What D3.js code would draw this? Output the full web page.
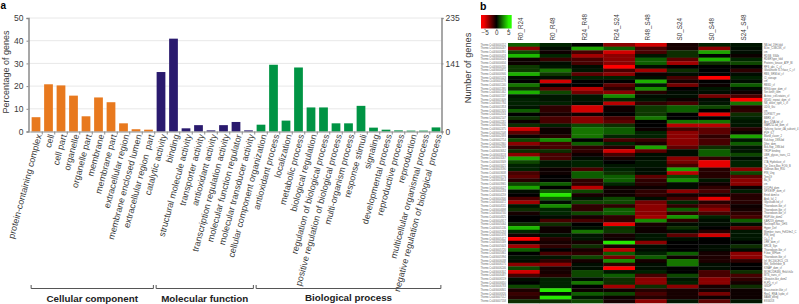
<!DOCTYPE html>
<html>
<head>
<meta charset="utf-8">
<script src="https://cdn.jsdelivr.net/npm/d3@7"></script>
<style>
  html, body { margin: 0; padding: 0; background: #fff; }
  svg { display: block; font-family: "Liberation Sans", Arial, sans-serif; }
</style>
</head>
<body>
<svg id="chart" width="799" height="304"></svg>
<script>
// panel a
const ccTerms = ["protein-containing complex", "cell", "cell part", "organelle", "organelle part", "membrane", "membrane part", "extracellular region", "membrane enclosed lumen", "extracellular region  part"];
const ccValues = [6.3, 20.8, 20.3, 15.8, 6.7, 15, 12.9, 3.6, 1, 0.8];
const mfTerms = ["catalytic activity", "binding", "structural molecule activity", "transporter activity", "antioxidant activity", "transcription regulation activity", "molecular function regulator", "molecular transducer activity"];
const mfValues = [26.2, 40.9, 1.4, 2.8, 0.5, 2.8, 4.2, 0.5];
const bpTerms = ["cellular component organization", "antioxidant process", "localization", "metabolic process", "biological regulation", "regulation of biological process", "positive regulation of biological process", "multi-organism process", "response stimuli", "signaling", "developmental process", "reproductive process", "reproduction", "multicellular organismal process", "negative regulation of biological  process"];
const bpValues = [3, 29.4, 4.8, 28.2, 10.6, 10.6, 3.6, 3.6, 11.3, 1.7, 0.8, 0.5, 0.4, 0.4, 1.8];
const percentTicks = [0, 10, 20, 30, 40, 50];
const geneTicks = [0, 141, 235];

// panel b
const comparisons = ["R0_R24", "R0_R48", "R24_R48", "R24_S24", "R48_S48", "S0_S24", "S0_S48", "S24_S48"];
const legendTicks = [-5, 0, 5];
const heatValues = [
  [2, .8, 0, -3, -4.5, -.5, .7, .5],
  [-3, .3, 3.5, 2, -1.5, -.5, -3, .3],
  [1.5, -.3, -1.5, -4.5, -1.5, 1, 3.5, .3],
  [4, .8, -3.5, -3, .5, 1, 0, -.3],
  [-.3, -1.2, -1.5, -3, 2, -2, 3.8, .8],
  [-.3, .3, -1.5, -3, 2, -3.5, 1, 1.5],
  [1.2, .4, .3, -5.5, .3, 0, 0, 0],
  [1.2, 2.5, .4, -1.5, -3.5, 1, 0, -1],
  [3.8, 1.2, -2, -3, -.3, .3, 0, .2],
  [.3, .3, .7, .7, .3, -1.5, -5.5, .7],
  [.1, -4.5, 0, 0, 3.8, -.5, -.1, .2],
  [2.5, 0, 0, -2, .5, -2.5, -.2, 2],
  [1, -2, -4, -1, 3, .1, .4, .2],
  [3.8, 1.5, -2.5, -3, -.8, .2, .2, -.2],
  [.5, .5, .5, 3, .3, .2, -2.5, -1.5],
  [.7, .5, .5, .8, .4, -.2, .3, -5.5],
  [.7, .7, .3, -4, -1, -1.5, .5, 2.5],
  [.4, -1, -4.5, -.2, 1.2, 2, 1.5, -.8],
  [2, -1, -4.5, -.2, 1.2, 2, 0, -1],
  [.1, -.5, -.3, 0, 1.2, 0, -5, 1],
  [1, -1.5, -3, -1.5, 2.5, -.1, 0, .7],
  [-.2, -1.5, -3, -2, 0, 2.5, 2.5, .5],
  [1, .7, 1.5, 1, .1, -4, -4, .5],
  [-4.5, -.3, 2.5, 2, -.2, -1.5, -2, -.8],
  [-2, -.3, 2.5, 2, .7, -3, -2, -.3],
  [-.3, -.8, 2.5, .8, .7, -3, -1, 3.5],
  [1.5, 3, 0, -1.5, -1.2, -3, -1.5, .5],
  [-3, -1.5, 2, .8, -.5, -3, -1.5, 2],
  [-1, -1.5, -1, -.8, 3.5, -2, 1, .4],
  [1, 1, -1, -4.5, -2, .2, 2, .4],
  [-3, -1.5, -.3, -1.5, .3, .2, 2, 1.5],
  [3.5, -1.5, .3, -.5, .3, -3, -1, .3],
  [1.5, .5, .7, 0, .5, -2.5, -5, .7],
  [.7, .5, .7, .5, .5, -1.5, -5, .7],
  [.7, -.3, -1.5, .7, .2, 3.5, -.8, -3],
  [-1.5, -.2, 2, 1, .2, -4, -.8, 1.5],
  [-2, .1, 2, 2, -2, 1.5, -.8, -2],
  [-.8, .1, -1, 2, -1, 3, .4, -3],
  [1.5, 2, -1, .8, -.8, .3, -.3, -3],
  [3.5, 0, -4, -.3, -.3, .3, -1, -.3],
  [.3, 2, 1.5, -.3, -1, -3, -1.5, .6],
  [0, 5, -.5, -.2, -1, -.5, -.5, -.8],
  [-1.5, 2, .5, 1.5, .3, -1.5, -5, -.8],
  [-3.5, .3, 1.5, 1.5, -2.5, .8, -.8, -.8],
  [.5, 3, -1, -1, -3, -1, -2, -.2],
  [1, .8, -1, 2, -3, 2, -3, -.5],
  [-.5, .8, 1.5, 2, -3, -1, -1.5, -1],
  [-.1, .3, -.4, -1, -3.5, 3.2, .7, -1.5],
  [0, -1.5, -1.5, -1, 3, -1, .3, 2],
  [1, 1, .1, -5, -.5, .3, .3, .3],
  [4, -.2, .3, 1, -.3, 1, 0, -2],
  [.8, -.2, 2.5, 1.2, -.3, .3, -.8, .5],
  [-.5, .4, .5, -.5, .4, -2, -4.5, .5],
  [-5.5, -.8, .5, -.3, .5, .3, .1, .5],
  [-.3, -.5, -.5, 5, -3, 0, .1, 0],
  [-3.5, -1, 1, -.5, .3, 0, .2, 1],
  [2, 0, -.5, -4, .3, 0, .2, .2],
  [0, -1.5, -1, 2, .7, 2, -.5, -3],
  [.4, .4, 1.5, -2.5, 2, -.3, -.6, -3],
  [.3, -1, -.5, 3, -.5, 2.5, -.6, -1],
  [-3, -3, .3, -1, .3, 2.5, .3, 0],
  [1.5, -.4, .3, -5.5, .3, 0, .3, 0],
  [-4.5, -.4, 1.5, .5, .7, -.1, -1.5, 1],
  [-1.5, -.8, 1.5, 2, -1.5, 1.5, -1.5, -1.5],
  [.2, .7, .3, 1, -3, .5, -3, -1],
  [0, .7, 2.5, 1, -3, .7, -3, -.5],
  [1.5, .7, 0, -3.5, 1, -3, -.4, 1],
  [-.6, 5, -.3, -.3, -.8, -.5, -.4, -.3],
  [-1.2, .3, 2, 1.5, -1.5, -.5, -2.5, -.3],
  [-.8, 5, .5, -.3, -.8, -.5, -.3, -.3],
  [1, 1, 1.5, -.5, -3, .5, -2, .5]
];
const geneIds = ["0152", "0267", "0391", "0418", "0526", "0634", "0705", "0871", "0946", "1023", "1178", "1240", "1395", "1462", "1537", "1609", "1784", "1853", "1920", "2016", "2147", "2281", "2336", "2475", "2508", "2693", "2714", "2860", "2939", "3052", "3118", "3267", "3349", "3421", "3590", "3638", "3776", "3814", "3965", "4027", "4183", "4259", "4306", "4472", "4531", "4698", "4740", "4825", "4917", "5064", "5136", "5293", "5378", "5412", "5589", "5643", "5720", "5861", "5994", "6038", "6175", "6246", "6302", "6487", "6519", "6650", "6783", "6841", "6926", "7012", "7158"];
const domainNames = ["NB-bd_19H-fold", "B-lec_C3BCSK_cf", "cm", "RDSB_SS4b", "RDBR type_fold", "Proteins_kinase_ATP_Bl", "RFS_abc_C_cf", "Glutathione S-Trfase_C_cf", "RBS_SRM-fol_cf", "Cl_storage", "cm", "RBSD_cf", "RING-type_dom_cf", "Ser-kinet_cdm", "Actinic_cell-rotates_cf", "WD40_repeat_dom_cf", "NB_disee_type_1_cf", "UDG_Gsi", "cm", "DUF3677_pre", "BBR3_cf", "Ann_DNA-bd_cf", "WAR252-bd_dom_cf", "Splicing_factor_4A_subunit_4", "PVF_fLT", "Bland_claver_2", "Kuk-hop_1NN-bd", "Dfee_dom", "Bck-hop_1NN-bd", "TRDP binding", "UBR_glycos_trans_C1", "cm", "LTA_Hydrolase_cf", "Tyr_Dece-Box_FOG_B", "Sabinan-Box_E30", "PIN_Ung", "Tenr19", "Bu_N", "cm", "DYDPd_dom", "SPX/EXP_dom_cf", "Entel dom/cx", "Arok_Iul_2", "Glycoside-hd_cf", "Thioredoxin-like_cf", "Thioredoxin-like_cf", "Thioredoxin-like_cf", "RGP-like_dom2", "KAR259_domain", "Nucleoplf-Nuc_DHS", "Hyper_Def", "Member_trans_FxKDfm2_C", "PIN_long", "Cu-1_ff", "LRR_dom_cf", "BRCB_Syn", "Thioredoxin-like_cf", "F-box_WFfam", "Thioredoxin-like_cf", "Inf_IEC1GCEC5_CS", "Mrs_Selfinhibitr_B", "KINAP_dom_cf", "MORC/DR486_Rnk/ch4x", "MTS_trans_cf", "Ubiquitin-like_dom2", "FLPD_rt_cf", "GSDP", "Brassinoster-like_cf", "Rep1_RNA_lcpbx_cf", "BAdB_dfling", "EXGD18"];

const allTerms = [...ccTerms, ...mfTerms, ...bpTerms];
const allValues = [...ccValues, ...mfValues, ...bpValues];
const termColor = t => ccTerms.includes(t) ? "#e8791e" : mfTerms.includes(t) ? "#2a1a6e" : "#009444";
const valueByTerm = new Map(allTerms.map((t, i) => [t, allValues[i]]));

const svg = d3.select("#chart");
const axisColor = "#8a8a8a";
const textColor = "#3a3a3a";

const x = d3.scaleBand().domain(allTerms).range([29.75, 442.25]).paddingInner(0.3).paddingOuter(0.15);
const y = d3.scaleLinear().domain([0, 50]).range([131.5, 18]);
const yGenes = d3.scaleLinear().domain([0, 235]).range([131.5, 18]);

// grid
svg.append("g").selectAll("line")
  .data(percentTicks.slice(1))
  .enter()
  .append("line")
  .attr("x1", 28.5).attr("x2", 441.5)
  .attr("y1", d => y(d)).attr("y2", d => y(d))
  .attr("stroke", "#e8e8e8");

// bars
svg.append("g").selectAll("rect")
  .data(allTerms)
  .enter()
  .append("rect")
  .attr("x", d => x(d))
  .attr("y", d => y(valueByTerm.get(d)))
  .attr("width", x.bandwidth())
  .attr("height", d => y(0) - y(valueByTerm.get(d)))
  .attr("fill", termColor);

// axes
const leftAxis = svg.append("g")
  .attr("transform", "translate(28.5,0)")
  .call(d3.axisLeft(y).tickValues(percentTicks).tickSize(2).tickPadding(3));
const rightAxis = svg.append("g")
  .attr("transform", "translate(441.5,0)")
  .call(d3.axisRight(yGenes).tickValues(geneTicks).tickSize(2).tickPadding(2));
[leftAxis, rightAxis].forEach(a => {
  a.select(".domain").attr("stroke", axisColor).attr("stroke-width", 1.5);
  a.selectAll(".tick line").attr("stroke", axisColor);
  a.selectAll("text").attr("fill", textColor).style("font-size", "8.5px").style("font-family", "inherit");
});

const bottomAxis = svg.append("g")
  .attr("transform", "translate(0,131.5)")
  .call(d3.axisBottom(x).tickSize(3).tickSizeOuter(0));
bottomAxis.select(".domain").attr("stroke", axisColor);
// ticks sit between the bars
bottomAxis.selectAll(".tick line")
  .attr("x1", x.step() / 2).attr("x2", x.step() / 2)
  .attr("stroke", axisColor);
bottomAxis.selectAll(".tick text")
  .attr("transform", "translate(3,3) rotate(-75)")
  .attr("x", 0).attr("y", 0).attr("dy", "0.32em")
  .attr("text-anchor", "end")
  .attr("fill", textColor)
  .style("font-size", "9px")
  .style("font-family", "inherit")
  .style("white-space", "pre");

svg.append("text")
  .attr("transform", "translate(9,72) rotate(-90)")
  .attr("text-anchor", "middle")
  .attr("fill", textColor)
  .style("font-size", "9px")
  .text("Percentage of genes");

svg.append("text")
  .attr("transform", "translate(471,68) rotate(-90)")
  .attr("text-anchor", "middle")
  .attr("fill", textColor)
  .style("font-size", "9.2px")
  .text("Number of genes");

// group brackets
const groups = [
  { name: "Cellular component", terms: ccTerms, base: 301.5 },
  { name: "Molecular function", terms: mfTerms, base: 301.5 },
  { name: "Biological process", terms: bpTerms, base: 300.5 }
];
groups.forEach(g => {
  const x0 = x(g.terms[0]) - 0.5;
  const x1 = x(g.terms[g.terms.length - 1]) + x.bandwidth() + 0.5;
  svg.append("path")
    .attr("d", `M${x0},285V288.5H${x1}V285`)
    .attr("fill", "none")
    .attr("stroke", "#555");
  svg.append("text")
    .attr("x", (x0 + x1) / 2)
    .attr("y", g.base)
    .attr("text-anchor", "middle")
    .attr("fill", "#222")
    .style("font-size", "9.8px")
    .style("font-weight", "bold")
    .text(g.name);
});

svg.append("text").attr("x", 0.5).attr("y", 9).style("font-size", "10px").style("font-weight", "bold").text("a");
svg.append("text").attr("x", 480).attr("y", 9.5).style("font-size", "10.5px").style("font-weight", "bold").text("b");

// heatmap
const hx = d3.scaleBand().domain(comparisons).range([508, 762]);
const hy = d3.scaleBand().domain(d3.range(heatValues.length)).range([43, 303]);
const heatColor = d3.scaleLinear()
  .domain([-5.5, 0, 5.5])
  .range(["#ff0000", "#000000", "#2bff00"])
  .clamp(true);

const defs = svg.append("defs");
// the reference is a soft raster, so take the edge off the cells
defs.append("filter")
  .attr("id", "soft")
  .attr("x", 0).attr("y", 0).attr("width", 1).attr("height", 1)
  .append("feGaussianBlur")
  .attr("stdDeviation", 0.5);

const heatRows = svg.append("g")
  .attr("filter", "url(#soft)")
  .selectAll("g")
  .data(heatValues)
  .enter()
  .append("g")
  .attr("transform", (d, i) => `translate(0,${hy(i)})`);

heatRows.selectAll("rect")
  .data(d => d)
  .enter()
  .append("rect")
  .attr("x", (d, i) => hx(comparisons[i]))
  .attr("width", hx.bandwidth() + 0.3)
  .attr("height", hy.bandwidth() + 0.3)
  .attr("fill", d => heatColor(d));

svg.append("g").selectAll("text")
  .data(comparisons)
  .enter()
  .append("text")
  .attr("transform", d => `translate(${hx(d) + hx.bandwidth() / 2 - 0.5},40.5) rotate(-90)`)
  .attr("fill", textColor)
  .style("font-size", "6.3px")
  .text(d => d);

// tiny row labels on both sides
svg.append("g").selectAll("text")
  .data(geneIds)
  .enter()
  .append("text")
  .attr("x", 506)
  .attr("y", (d, i) => hy(i) + hy.bandwidth() / 2)
  .attr("dy", "0.35em")
  .attr("text-anchor", "end")
  .attr("fill", "#666")
  .style("font-size", "2.6px")
  .text(d => "Theme.Cs04G00" + d);

svg.append("g").selectAll("text")
  .data(domainNames)
  .enter()
  .append("text")
  .attr("x", 764)
  .attr("y", (d, i) => hy(i) + hy.bandwidth() / 2)
  .attr("dy", "0.35em")
  .attr("fill", "#666")
  .style("font-size", "2.6px")
  .text(d => d);

// colour key
const legendX = d3.scaleLinear().domain([-6.5, 6.5]).range([481, 511.7]);
const grad = defs.append("linearGradient").attr("id", "key");
d3.range(0, 1.01, 0.1).forEach(t => {
  grad.append("stop")
    .attr("offset", t)
    .attr("stop-color", heatColor(legendX.invert(481 + t * 30.7)));
});
svg.append("rect")
  .attr("x", 481).attr("y", 15)
  .attr("width", 30.7).attr("height", 13.5)
  .attr("fill", "url(#key)");

const legendAxis = svg.append("g")
  .attr("transform", "translate(0,28.5)")
  .call(d3.axisBottom(legendX).tickValues(legendTicks).tickSize(1.5).tickPadding(1));
legendAxis.select(".domain").remove();
legendAxis.selectAll(".tick line").attr("stroke", axisColor);
legendAxis.selectAll("text").attr("fill", textColor).style("font-size", "6.3px").style("font-family", "inherit");
</script>
</body>
</html>
